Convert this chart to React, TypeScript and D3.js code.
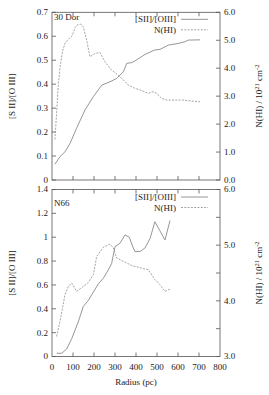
import React from 'react';
import * as d3 from 'd3';

// 30 Dor: [SII]/[OIII] ratio (left axis) and N(HI) (right axis, 10^21 cm^-2)
const dorRatioR = [14, 38, 62, 86, 117, 157, 197, 237, 276, 308, 340, 356, 379, 395, 443, 490, 514, 554, 601, 633, 649, 705];
const dorRatio = [0.066, 0.097, 0.118, 0.153, 0.216, 0.292, 0.348, 0.396, 0.41, 0.424, 0.452, 0.487, 0.49, 0.497, 0.524, 0.543, 0.545, 0.563, 0.57, 0.577, 0.584, 0.585];
const dorHIR = [14, 22, 30, 38, 50, 62, 80, 95, 110, 120, 137, 149, 165, 181, 205, 229, 252, 284, 324, 363, 395, 420, 459, 482, 498, 522, 546, 586, 620, 657, 705];
const dorHI = [1.45, 2.4, 3.4, 4.0, 4.6, 4.9, 5.05, 5.15, 5.45, 5.55, 5.58, 5.48, 5.0, 4.41, 4.53, 4.56, 4.23, 3.93, 3.7, 3.4, 3.28, 3.22, 3.1, 3.16, 3.1, 2.92, 2.86, 2.86, 2.86, 2.83, 2.8];

// N66
const n66RatioR = [22, 46, 70, 94, 125, 149, 173, 197, 221, 244, 268, 284, 300, 324, 348, 368, 387, 395, 419, 443, 467, 490, 538, 562];
const n66Ratio = [0.027, 0.027, 0.063, 0.15, 0.29, 0.42, 0.47, 0.54, 0.61, 0.655, 0.725, 0.78, 0.92, 0.95, 1.02, 1.0, 0.91, 0.88, 0.88, 0.91, 0.99, 1.13, 0.977, 1.14];
const n66HIR = [22, 38, 62, 78, 94, 117, 149, 173, 197, 213, 244, 276, 292, 308, 324, 356, 387, 395, 443, 459, 490, 514, 538, 554, 562];
const n66HI = [3.36, 3.63, 4.11, 4.26, 4.32, 4.17, 4.26, 4.33, 4.47, 4.8, 4.96, 5.02, 4.95, 4.77, 4.74, 4.68, 4.62, 4.62, 4.57, 4.56, 4.38, 4.29, 4.17, 4.2, 4.21];

const xTicks = [0, 100, 200, 300, 400, 500, 600, 700, 800];

const panels = [
  {
    name: '30 Dor', top: 12.3, bottom: 180,
    left: [0, 0.7], leftTicks: d3.range(0, 0.71, 0.1), leftFmt: (v: number) => v === 0 ? '0' : v.toFixed(1),
    right: [0, 6], rightTicks: d3.range(0, 6.01, 1), rightLabels: d3.range(0, 6.01, 1),
    ratioR: dorRatioR, ratio: dorRatio, hiR: dorHIR, hi: dorHI,
    titleDy: 8, legendDy: 10,
  },
  {
    name: 'N66', top: 189.5, bottom: 356.5,
    left: [0, 1.4], leftTicks: d3.range(0, 1.41, 0.2), leftFmt: (v: number) => Math.abs(v - 1) < 1e-6 ? '1' : v === 0 ? '0' : v.toFixed(1),
    right: [3, 6], rightTicks: d3.range(3, 6.01, 0.5), rightLabels: d3.range(3, 6.01, 1),
    ratioR: n66RatioR, ratio: n66Ratio, hiR: n66HIR, hi: n66HI,
    titleDy: 16, legendDy: 10.5,
  },
];

const font = "'Liberation Serif', 'Times New Roman', 'DejaVu Serif', serif";
const frameCol = '#555';
const textCol = '#222';
const lineCol = '#8a8a8a';
const dashCol = '#9a9a9a';

export default function App() {
  const x = d3.scaleLinear().domain([0, 800]).range([52, 220]);
  return (
    <svg width={269} height={395} style={{ position: 'absolute', left: 0, top: 0 }} fontFamily={font}>
      <rect width={269} height={395} fill="#fff" />
      {panels.map((p, pi) => {
        const yl = d3.scaleLinear().domain(p.left).range([p.bottom, p.top]);
        const yr = d3.scaleLinear().domain(p.right).range([p.bottom, p.top]);
        const ratioLine = d3.line<number>().x((_, i) => x(p.ratioR[i])).y(d => yl(d));
        const hiLine = d3.line<number>().x((_, i) => x(p.hiR[i])).y(d => yr(d));
        const mid = (p.top + p.bottom) / 2;
        const x0 = x(0), x1 = x(800);
        return (
          <g key={pi} fontFamily={font}>
            <rect x={x0} y={p.top} width={x1 - x0} height={p.bottom - p.top} fill="none" stroke={frameCol} strokeWidth={0.8} />
            {xTicks.slice(1, -1).map(t => (
              <g key={t} stroke={frameCol} strokeWidth={0.8}>
                <line x1={x(t)} x2={x(t)} y1={p.bottom} y2={p.bottom - 4} />
                <line x1={x(t)} x2={x(t)} y1={p.top} y2={p.top + 4} />
              </g>
            ))}
            {p.leftTicks.map((t, i) => (
              <g key={'l' + i}>
                <line x1={x0} x2={x0 + 4} y1={yl(t)} y2={yl(t)} stroke={frameCol} strokeWidth={0.8} />
                <text x={48} y={yl(t)} dy="0.33em" textAnchor="end" fontSize={9} fill={textCol}>{p.leftFmt(t)}</text>
              </g>
            ))}
            {p.rightTicks.map((t, i) => (
              <line key={'r' + i} x1={x1} x2={x1 - 4} y1={yr(t)} y2={yr(t)} stroke={frameCol} strokeWidth={0.8} />
            ))}
            {p.rightLabels.map((t, i) => (
              <text key={'rl' + i} x={224} y={yr(t)} dy="0.33em" fontSize={9} fill={textCol}>{t.toFixed(1)}</text>
            ))}
            <path d={hiLine(p.hi) || ''} fill="none" stroke={dashCol} strokeWidth={0.9} strokeDasharray="2,1.3" />
            <path d={ratioLine(p.ratio) || ''} fill="none" stroke={lineCol} strokeWidth={0.9} />
            <text x={54} y={p.top + p.titleDy} fontSize={9} fill={textCol}>{p.name}</text>
            <text x={176} y={p.top + p.legendDy} textAnchor="end" fontSize={9} fill={textCol}>[SII]/[OIII]</text>
            <line x1={181} x2={208} y1={p.top + p.legendDy - 3} y2={p.top + p.legendDy - 3} stroke={lineCol} strokeWidth={0.9} />
            <text x={176} y={p.top + p.legendDy + 10.5} textAnchor="end" fontSize={9} fill={textCol}>N(HI)</text>
            <line x1={181} x2={208} y1={p.top + p.legendDy + 7.5} y2={p.top + p.legendDy + 7.5} stroke={dashCol} strokeWidth={0.9} strokeDasharray="2,1.3" />
            <text transform={`translate(15,${mid}) rotate(-90)`} textAnchor="middle" fontSize={9} fill={textCol}>[S II]/[O III]</text>
            <text transform={`translate(262,${mid}) rotate(-90)`} textAnchor="middle" fontSize={9} fill={textCol}>
              N(HI) / 10<tspan dy={-3.5} fontSize={6.5}>21</tspan><tspan dy={3.5}> cm</tspan><tspan dy={-3.5} fontSize={6.5}>-2</tspan>
            </text>
          </g>
        );
      })}
      {xTicks.map(t => (
        <text key={t} x={x(t)} y={370} textAnchor="middle" fontSize={9} fill={textCol}>{t}</text>
      ))}
      <text x={x(400)} y={385} textAnchor="middle" fontSize={9} fill={textCol}>Radius (pc)</text>
    </svg>
  );
}
